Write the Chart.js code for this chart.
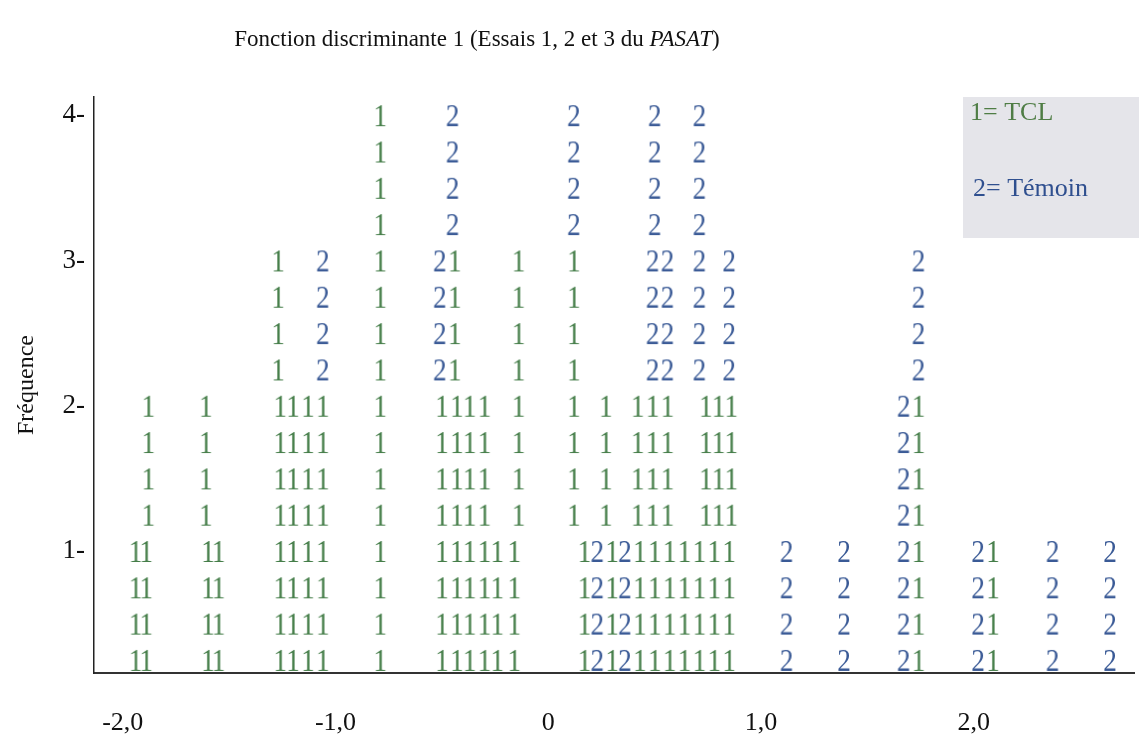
<!DOCTYPE html>
<html lang="fr">
<head>
<meta charset="utf-8">
<title>Fonction discriminante 1</title>
<script src="https://cdn.jsdelivr.net/npm/chart.js@4.4.1/dist/chart.umd.min.js"></script>
<style>
  html, body { margin: 0; padding: 0; background: #fff; }
  #graf { width: 1139px; height: 750px; }
</style>
</head>
<body>
<div id="graf"><canvas id="grafico-discriminante"></canvas></div>
<script>
// axes
const xTicks = [-2, -1, 0, 1, 2];
const xTickLabels = ['-2,0', '-1,0', '0', '1,0', '2,0'];
const yTicks = [1, 2, 3, 4];
const yTickLabels = ['1-', '2-', '3-', '4-'];

// score sur la fonction 1 de chaque cas, par niveau de fréquence (1 = bas)
const tclNiveau1 = [-1.94, -1.89, -1.60, -1.55, -1.26, -1.20, -1.13, -1.06, -0.79,
    -0.50, -0.43, -0.37, -0.30, -0.24, -0.16, 0.17, 0.30,
    0.43, 0.50, 0.57, 0.64, 0.71, 0.78, 0.85, 1.74, 2.09];
const temNiveau1 = [0.23, 0.36, 1.12, 1.39, 1.67, 2.02, 2.37, 2.64];
const tclNiveau2 = [-1.88, -1.61, -1.26, -1.20, -1.13, -1.06, -0.79,
    -0.50, -0.43, -0.37, -0.30, -0.14, 0.12, 0.27,
    0.42, 0.49, 0.56, 0.74, 0.80, 0.86, 1.74];
const temNiveau2 = [1.67];
const tclNiveau3 = [-1.27, -0.79, -0.44, -0.14, 0.12];
const temNiveau3 = [-1.06, -0.51, 0.49, 0.56, 0.71, 0.85, 1.74];
const tclNiveau4 = [-0.79];
const temNiveau4 = [-0.45, 0.12, 0.50, 0.71];

const legende = ['1= TCL', '2= Témoin'];

const VERT = '#447d48';
const BLEU = '#3a5a96';

document.addEventListener('DOMContentLoaded', function () {
    const ctx = document.getElementById('grafico-discriminante').getContext('2d');

    // petit canvas avec le chiffre, utilisé comme pointStyle
    function glyphe(car, couleur) {
        const c = document.createElement('canvas');
        c.width = 22;
        c.height = 34;
        const g = c.getContext('2d');
        g.fillStyle = couleur;
        g.font = '31px "Liberation Serif"';
        g.textAlign = 'center';
        g.textBaseline = 'alphabetic';
        g.translate(11, 0);
        g.scale(0.88, 1);
        g.fillText(car, 0, 27.5);
        return c;
    }

    // chaque cas occupe 4 lignes de texte (un quart de fréquence chacune)
    function lignes(niveaux) {
        const pts = [];
        niveaux.forEach(function (scores, i) {
            scores.forEach(function (s) {
                for (let k = 1; k <= 4; k++) pts.push({ x: s, y: i + k / 4 });
            });
        });
        return pts;
    }

    const decor = {
        id: 'decor',
        beforeDatasetsDraw(chart) {
            const c = chart.ctx;
            c.save();
            // encadré de la légende
            c.fillStyle = '#e5e5ea';
            c.fillRect(963, 97, 176, 141);
            c.font = '26px "Liberation Serif"';
            c.textAlign = 'left';
            c.textBaseline = 'alphabetic';
            c.fillStyle = '#4f7d45';
            c.fillText(legende[0], 970, 120);
            c.fillStyle = '#2f4f8f';
            c.fillText(legende[1], 973, 196);

            // titre avec PASAT en italique
            const t1 = 'Fonction discriminante 1 (Essais 1, 2 et 3 du ';
            const t2 = 'PASAT';
            const t3 = ')';
            c.fillStyle = '#111';
            c.font = '23px "Liberation Serif"';
            const w1 = c.measureText(t1).width;
            const w3 = c.measureText(t3).width;
            c.font = 'italic 23px "Liberation Serif"';
            const w2 = c.measureText(t2).width;
            let x = 477 - (w1 + w2 + w3) / 2;
            const y = 46;
            c.font = '23px "Liberation Serif"';
            c.fillText(t1, x, y);
            x += w1;
            c.font = 'italic 23px "Liberation Serif"';
            c.fillText(t2, x, y);
            x += w2;
            c.font = '23px "Liberation Serif"';
            c.fillText(t3, x, y);
            c.restore();
        }
    };

    new Chart(ctx, {
        type: 'scatter',
        data: {
            datasets: [{
                label: 'TCL',
                data: lignes([tclNiveau1, tclNiveau2, tclNiveau3, tclNiveau4]),
                pointStyle: glyphe('1', VERT),
                pointRadius: 3
            }, {
                label: 'Témoin',
                data: lignes([temNiveau1, temNiveau2, temNiveau3, temNiveau4]),
                pointStyle: glyphe('2', BLEU),
                pointRadius: 3
            }]
        },
        options: {
            responsive: true,
            maintainAspectRatio: false,
            animation: false,
            events: [],
            layout: { padding: { top: 97, left: 0, right: 0, bottom: 0 } },
            plugins: {
                legend: { display: false },
                tooltip: { enabled: false },
                title: { display: false }
            },
            scales: {
                x: {
                    type: 'linear',
                    min: -2.135,
                    max: 2.753,
                    afterBuildTicks: function (s) {
                        s.ticks = xTicks.map(function (v) { return { value: v }; });
                    },
                    afterFit: function (s) { s.height = 77; },
                    ticks: {
                        callback: function (v) { return xTickLabels[xTicks.indexOf(v)]; },
                        font: { family: 'Liberation Serif', size: 26 },
                        color: '#111',
                        padding: 35,
                        maxRotation: 0,
                        autoSkip: false
                    },
                    grid: { display: false, drawTicks: false },
                    border: { display: true, color: '#333', width: 2, dash: [38, 5] }
                },
                y: {
                    min: 0.16,
                    max: 4.125,
                    afterBuildTicks: function (s) {
                        s.ticks = yTicks.map(function (v) { return { value: v }; });
                    },
                    afterFit: function (s) { s.width = 94; },
                    ticks: {
                        callback: function (v) { return yTickLabels[yTicks.indexOf(v)]; },
                        font: { family: 'Liberation Serif', size: 27 },
                        color: '#111',
                        padding: 9
                    },
                    grid: { display: false, drawTicks: false },
                    border: { display: true, color: '#222', width: 1.5 },
                    title: {
                        display: true,
                        text: 'Fréquence',
                        font: { family: 'Liberation Serif', size: 24 },
                        color: '#111',
                        padding: { top: 12, bottom: 0 }
                    }
                }
            }
        },
        plugins: [decor]
    });
});
</script>
</body>
</html>
